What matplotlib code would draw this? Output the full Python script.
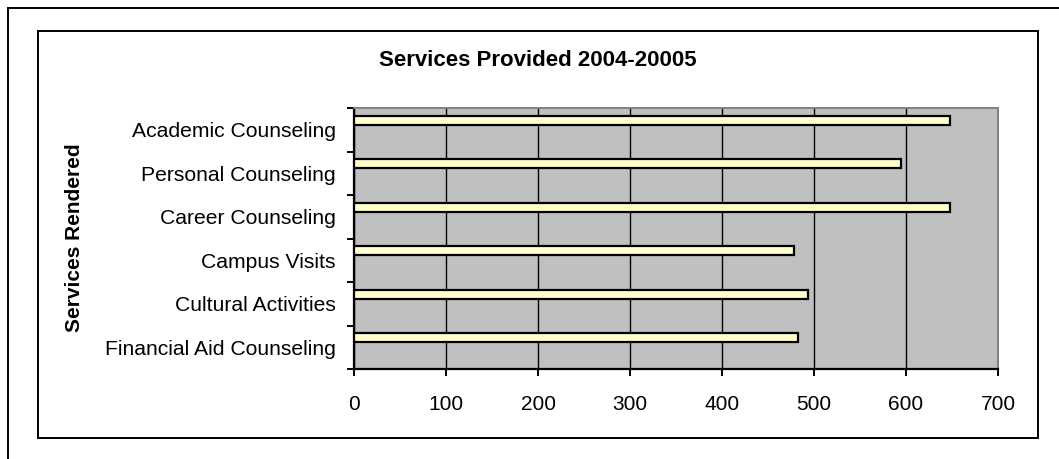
import numpy as np
import matplotlib.pyplot as plt
from matplotlib.patches import Rectangle
from matplotlib.lines import Line2D

plt.rcParams['font.family'] = ['Liberation Sans', 'DejaVu Sans']

# データ
services = ['Academic Counseling', 'Personal Counseling', 'Career Counseling',
            'Campus Visits', 'Cultural Activities', 'Financial Aid Counseling']
counts = [648, 595, 648, 478, 494, 483]
x_ticks = [0, 100, 200, 300, 400, 500, 600, 700]

W, H = 1059, 459
fig = plt.figure(figsize=(W / 100, H / 100), dpi=100)

# 枠線 (外側と内側)
px = lambda x: x / W
py = lambda y: 1 - y / H
fig.add_artist(Line2D([px(8), px(8)], [py(8), 0], color='black', lw=1.4))
fig.add_artist(Line2D([px(8), 1], [py(8), py(8)], color='black', lw=1.4))
fig.add_artist(Rectangle((px(38), py(438)), px(1038) - px(38), py(31) - py(438),
                         fill=False, edgecolor='black', lw=1.4))

ax = fig.add_axes([px(354), py(369), px(998) - px(354), py(108) - py(369)])
ax.set_facecolor('#C0C0C0')

pos = np.arange(len(services))
ax.barh(pos - 0.22, counts, height=0.21, color='#FFFFCC',
        edgecolor='black', linewidth=1.6, zorder=3)

ax.set_xlim(0, 700)
ax.set_ylim(len(services) - 0.5, -0.5)
ax.set_xticks(x_ticks)
ax.xaxis.grid(True, color='black', linewidth=1.0, zorder=1)
ax.set_axisbelow(True)

# 区切り目盛り
ax.set_yticks(np.arange(-0.5, len(services), 1.0))
ax.set_yticklabels([])
ax.set_yticks(pos, minor=True)
ax.set_yticklabels(services, minor=True, fontsize=15.2)
ax.tick_params(axis='y', which='minor', length=0, pad=13)
ax.tick_params(axis='y', which='major', length=5, width=1.4, direction='out')
ax.tick_params(axis='x', length=5, width=1.4, direction='out', pad=14, labelsize=15)

for s in ['left', 'bottom']:
    ax.spines[s].set_linewidth(1.6)
    ax.spines[s].set_color('black')
for s in ['top', 'right']:
    ax.spines[s].set_linewidth(1.4)
    ax.spines[s].set_color('#808080')

fig.text(px(75), py(238), 'Services Rendered', rotation=90, fontsize=15,
         fontweight='bold', ha='center', va='center')
fig.text(px(538), py(60), 'Services Provided 2004-20005', fontsize=16,
         fontweight='bold', ha='center', va='center')

fig.savefig('out.png', dpi=100)
